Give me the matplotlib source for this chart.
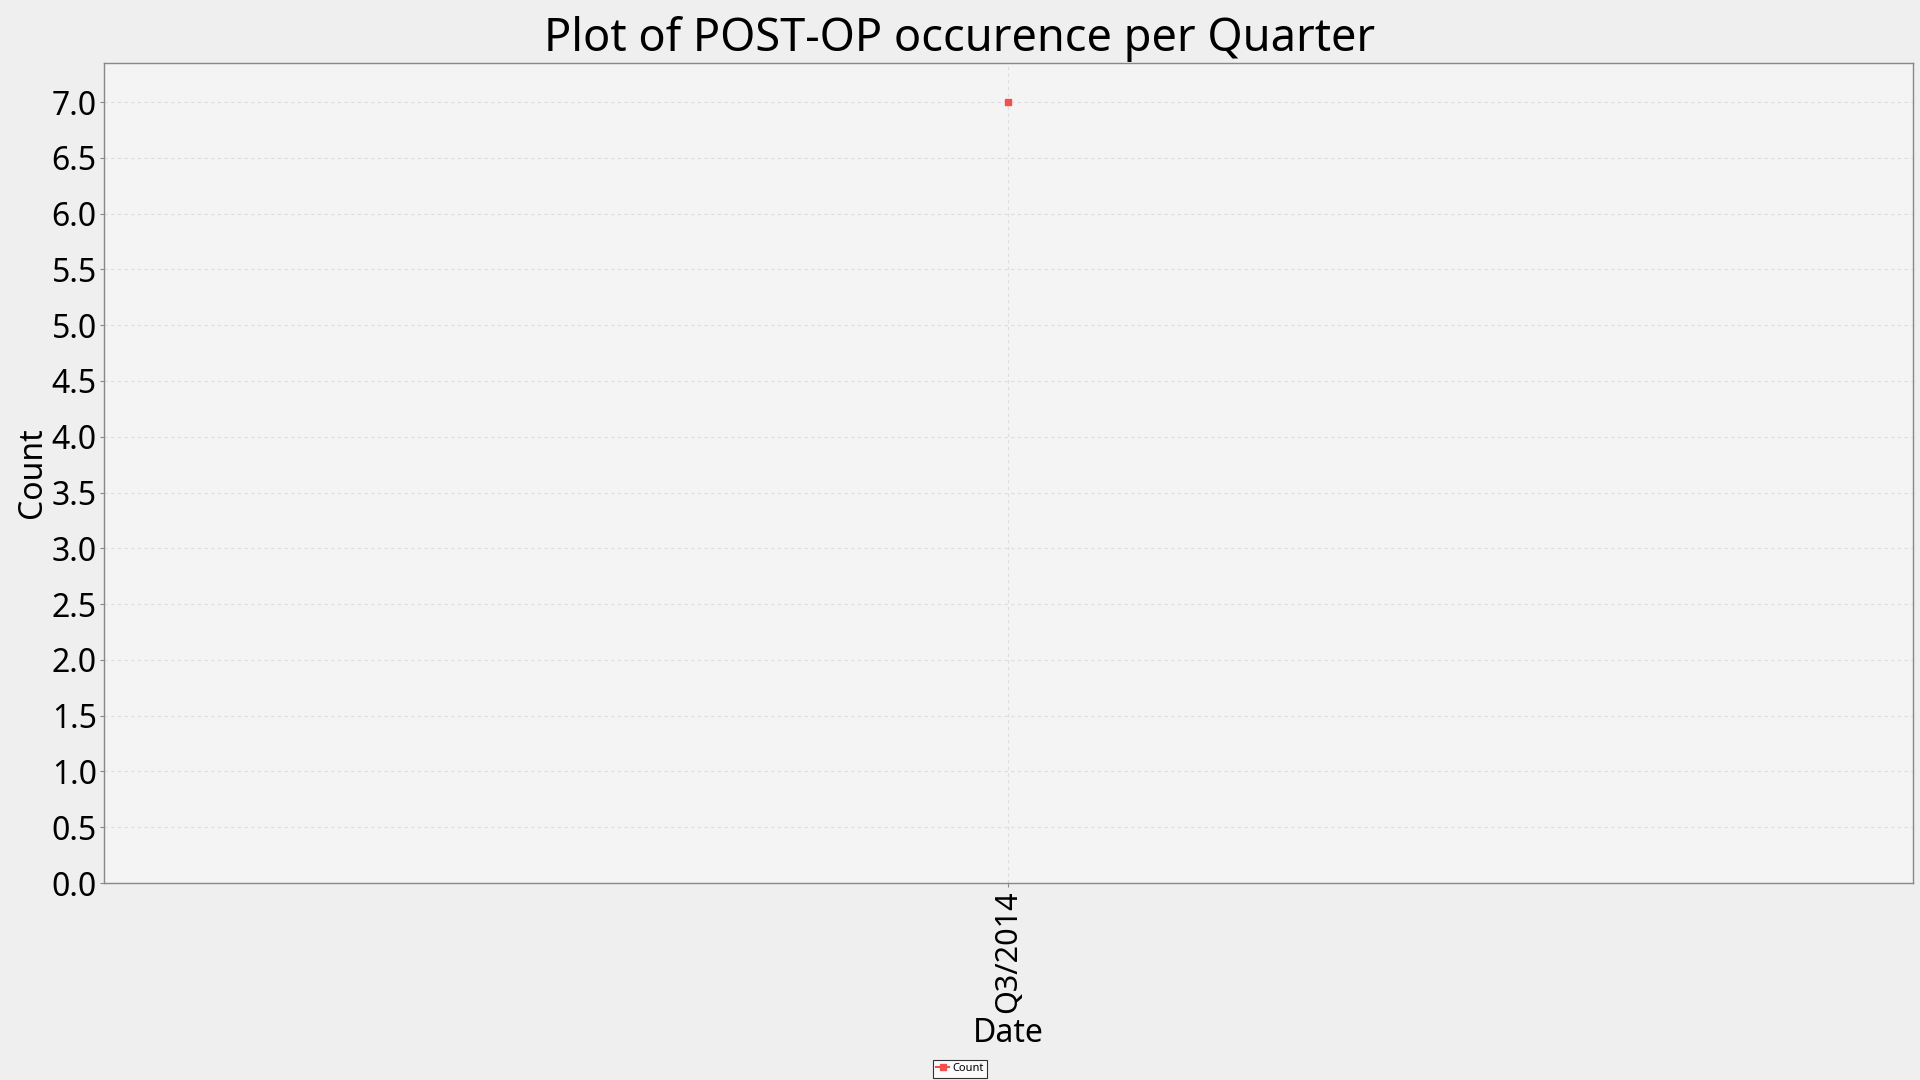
import numpy as np
import matplotlib.pyplot as plt

# 数据
quarters = ['Q3/2014']
counts = [7]

plt.rcParams['font.family'] = ['Noto Sans', 'DejaVu Sans']

fig = plt.figure(figsize=(19.2, 10.8), dpi=100, facecolor='#efefef')
ax = fig.add_axes([0.054, 0.1824, 0.9424, 0.7593])
ax.set_facecolor('#f4f4f4')

x = np.arange(len(quarters))
ax.plot(x, counts, color='#f05050', marker='s', markersize=5, linestyle='-', label='Count')

ax.set_xlim(-1, 1)
ax.set_ylim(0, 7.35)
ax.set_xticks(x)
ax.set_xticklabels(quarters, rotation=90)
ax.set_yticks(np.arange(0, 7.01, 0.5))
ax.yaxis.set_major_formatter(plt.FormatStrFormatter('%.1f'))
ax.tick_params(axis='both', labelsize=23, length=3, width=0.8, color='#888888', pad=2)
ax.tick_params(axis='x', labelsize=22)

# 网格和边框
ax.grid(True, color='#dddddd', linestyle=(0, (3, 3)), linewidth=0.8)
ax.set_axisbelow(True)
for s in ax.spines.values():
    s.set_color('#888888')
    s.set_linewidth(1)

# 标题居中于整张图
fig.suptitle('Plot of POST-OP occurence per Quarter', fontsize=32.5, x=0.5, y=0.985, va='top')
ax.set_xlabel('Date', fontsize=23, labelpad=3)
ax.set_ylabel('Count', fontsize=23, labelpad=2)

leg = fig.legend(loc='lower center', bbox_to_anchor=(0.5, -0.003), fontsize=8, frameon=True,
                 fancybox=False, edgecolor='black', handlelength=1.2, borderpad=0.3,
                 handletextpad=0.3, markerscale=0.8)
leg.get_frame().set_facecolor('white')
leg.get_frame().set_linewidth(0.8)

plt.savefig('out.png', dpi=100, facecolor=fig.get_facecolor())
